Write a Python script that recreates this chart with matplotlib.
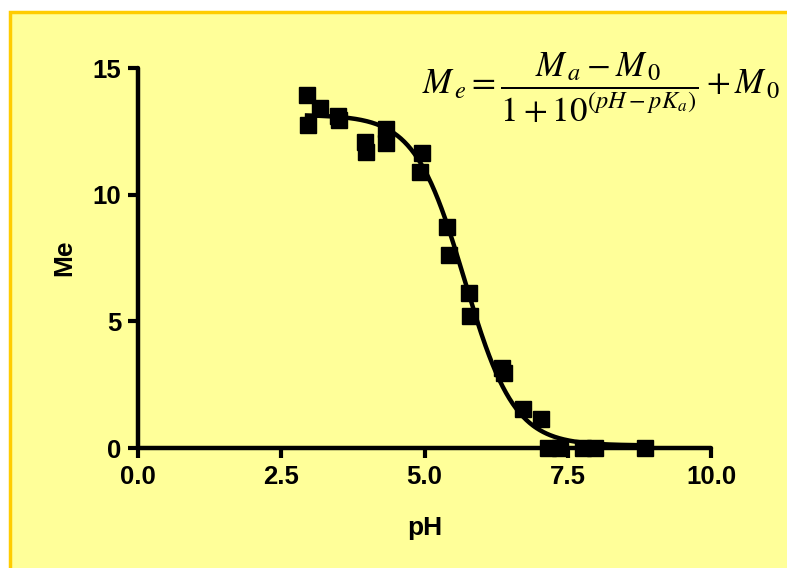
import numpy as np
import matplotlib.pyplot as plt
from matplotlib.patches import Rectangle

# measured points (pH, Me)
ph = [2.95, 2.97, 3.18, 3.49, 3.50, 3.96, 3.98, 4.33, 4.33, 4.96, 4.92,
      5.39, 5.43, 5.78, 5.79, 6.35, 6.39, 6.72, 7.03, 7.16, 7.37, 7.77, 7.98, 8.85]
me = [13.94, 12.75, 13.42, 13.10, 12.95, 12.08, 11.69, 12.60, 12.04, 11.65, 10.90,
      8.72, 7.62, 6.10, 5.20, 3.16, 2.96, 1.54, 1.14, 0.0, 0.0, 0.0, 0.0, 0.0]

# fitted model parameters
Ma = 13.15
M0 = 0.10
pKa = 5.70

xticks = [0.0, 2.5, 5.0, 7.5, 10.0]
yticks = [0, 5, 10, 15]

plt.rcParams['font.family'] = ['Liberation Sans', 'DejaVu Sans']
plt.rcParams['mathtext.fontset'] = 'stix'

W, H = 787, 568
fig = plt.figure(figsize=(W / 100, H / 100), dpi=100, facecolor='white')
fig.patches.append(Rectangle((10 / W, -0.01), 1.0, 1 - 12 / H + 0.01, transform=fig.transFigure,
                             facecolor='#FFFF99', edgecolor='#FFCC00', linewidth=2.5, zorder=-5))

ax = fig.add_axes([138 / W, 1 - 448 / H, (711 - 138) / W, (448 - 68) / H])
ax.set_facecolor('none')
ax.set_zorder(2)

xs = np.linspace(min(ph), max(ph), 300)
fit = M0 + (Ma - M0) / (1 + 10 ** (xs - pKa))
ax.plot(xs, fit, color='black', lw=3.2, zorder=2)
ax.plot(ph, me, 's', color='black', markersize=11.5, zorder=3, clip_on=False)

ax.set_xlim(0, 10)
ax.set_ylim(0, 15)
ax.set_xticks(xticks)
ax.set_xticklabels(['%.1f' % t for t in xticks])
ax.set_yticks(yticks)
for s in ['top', 'right']:
    ax.spines[s].set_visible(False)
for s in ['left', 'bottom']:
    ax.spines[s].set_linewidth(3.2)
    ax.spines[s].set_capstyle('round')
ax.tick_params(width=3, length=7, labelsize=18.5, pad=5)
for lab in ax.get_xticklabels() + ax.get_yticklabels():
    lab.set_fontweight('bold')

ax.set_xlabel('pH', fontsize=19, fontweight='bold', labelpad=20)
ax.set_ylabel('Me', fontsize=19, fontweight='bold', labelpad=12)

fig.text(780 / W, 1 - 88 / H,
         r'$M_{\,e} = \dfrac{M_{\,a} - M_{\,0}}{1 + 10^{(pH - pK_a)}} + M_{\,0}$',
         ha='right', va='center', fontsize=25, zorder=3)

fig.savefig('out.png', dpi=100, facecolor=fig.get_facecolor())
